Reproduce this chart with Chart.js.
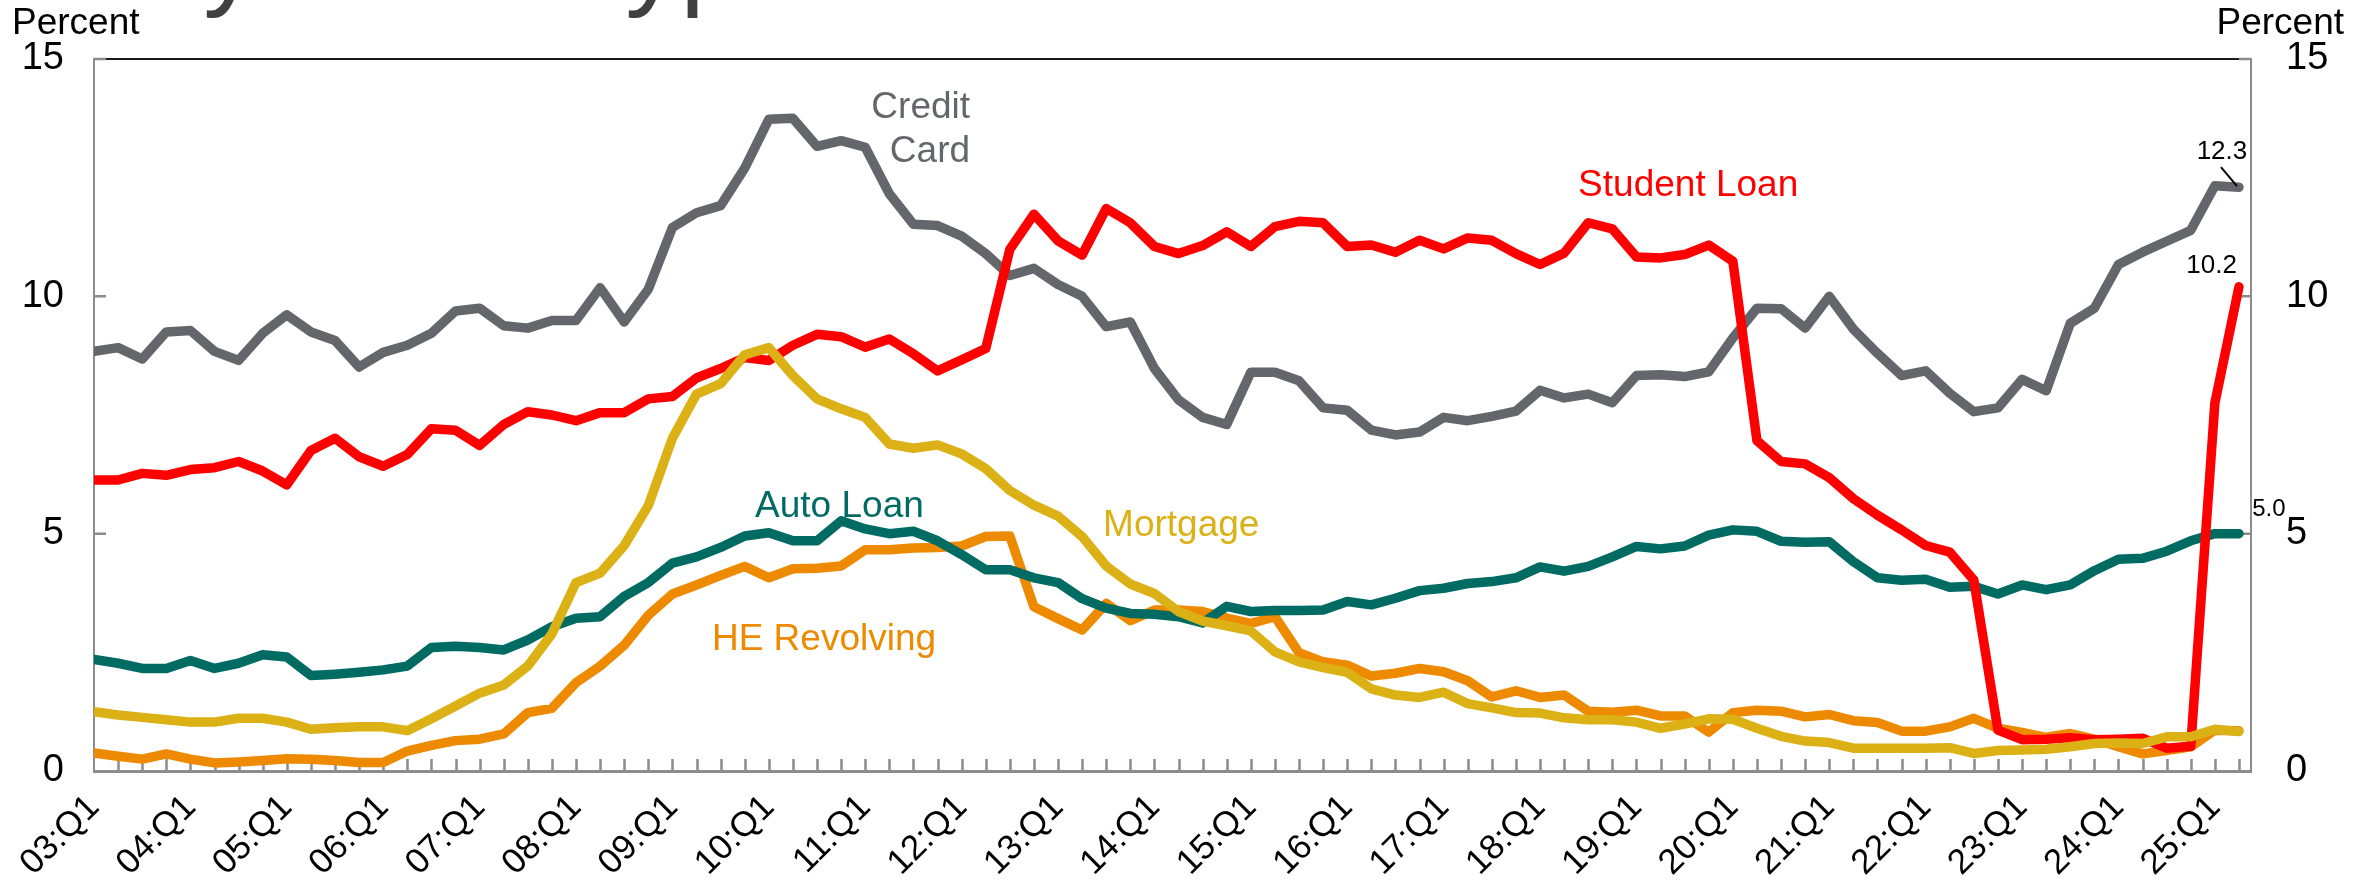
<!DOCTYPE html>
<html lang="en">
<head>
    <meta charset="UTF-8">
    <title>Percent of Balance 90+ Days Delinquent by Loan Type</title>
    <script src="https://cdn.jsdelivr.net/npm/chart.js"></script>
    <style>
        html, body { margin: 0; padding: 0; background: #fff; }
        #wrap { width: 2374px; height: 893px; }
    </style>
</head>
<body>
<div id="wrap"><canvas id="delinqChart" width="2374" height="893"></canvas></div>
<script>
// quarterly, 03:Q1 .. 25:Q2
const quarters = [];
for (let yr = 3; yr <= 25; yr++) {
    for (let q = 1; q <= 4; q++) {
        quarters.push(String(yr).padStart(2, '0') + ':Q' + q);
    }
}
quarters.length = 90;

const creditCard = [
    8.84, 8.92, 8.68, 9.25, 9.28, 8.84, 8.65, 9.22, 9.61, 9.25,
    9.07, 8.51, 8.82, 8.97, 9.22, 9.69, 9.75, 9.38, 9.33, 9.49,
    9.49, 10.18, 9.46, 10.15, 11.45, 11.76, 11.91, 12.70, 13.73, 13.75,
    13.16, 13.28, 13.14, 12.16, 11.52, 11.49, 11.27, 10.90, 10.44, 10.59,
    10.25, 10.00, 9.36, 9.46, 8.48, 7.82, 7.45, 7.30, 8.40, 8.40,
    8.22, 7.65, 7.60, 7.18, 7.08, 7.14, 7.45, 7.38, 7.47, 7.58,
    8.02, 7.86, 7.94, 7.76, 8.33, 8.35, 8.31, 8.41, 9.12, 9.75,
    9.74, 9.33, 10.00, 9.31, 8.80, 8.33, 8.43, 7.96, 7.57, 7.65,
    8.25, 8.01, 9.43, 9.75, 10.67, 10.93, 11.16, 11.39, 12.33, 12.3
];
const studentLoan = [
    6.13, 6.13, 6.27, 6.23, 6.35, 6.39, 6.52, 6.32, 6.03, 6.75,
    7.01, 6.62, 6.42, 6.67, 7.21, 7.18, 6.86, 7.30, 7.57, 7.50,
    7.38, 7.55, 7.55, 7.84, 7.89, 8.28, 8.48, 8.71, 8.65, 8.97,
    9.20, 9.15, 8.93, 9.10, 8.79, 8.43, 8.66, 8.90, 10.99, 11.73,
    11.17, 10.87, 11.85, 11.55, 11.05, 10.90, 11.07, 11.36, 11.05, 11.47,
    11.58, 11.55, 11.05, 11.08, 10.93, 11.18, 11.00, 11.23, 11.18, 10.90,
    10.67, 10.91, 11.55, 11.42, 10.83, 10.81, 10.88, 11.08, 10.74, 6.96,
    6.52, 6.47, 6.18, 5.74, 5.39, 5.08, 4.75, 4.61, 4.02, 0.86,
    0.66, 0.67, 0.70, 0.66, 0.67, 0.69, 0.48, 0.52, 7.75, 10.2
];
const autoLoan = [
    2.35, 2.27, 2.16, 2.16, 2.33, 2.16, 2.27, 2.45, 2.40, 2.01,
    2.04, 2.08, 2.13, 2.21, 2.60, 2.63, 2.60, 2.55, 2.76, 3.04,
    3.22, 3.25, 3.68, 3.97, 4.38, 4.51, 4.71, 4.95, 5.02, 4.85,
    4.85, 5.27, 5.10, 5.00, 5.05, 4.85, 4.56, 4.24, 4.24, 4.07,
    3.97, 3.63, 3.43, 3.32, 3.30, 3.25, 3.12, 3.47, 3.36, 3.38,
    3.38, 3.39, 3.57, 3.50, 3.64, 3.80, 3.85, 3.95, 3.99, 4.07,
    4.30, 4.21, 4.31, 4.51, 4.73, 4.68, 4.74, 4.97, 5.08, 5.05,
    4.84, 4.82, 4.83, 4.41, 4.07, 4.02, 4.04, 3.87, 3.89, 3.73,
    3.92, 3.82, 3.92, 4.22, 4.46, 4.48, 4.63, 4.85, 5.0, 5.0
];
const mortgage = [
    1.25, 1.18, 1.13, 1.08, 1.03, 1.03, 1.11, 1.11, 1.03, 0.88,
    0.91, 0.93, 0.93, 0.85, 1.10, 1.37, 1.64, 1.81, 2.21, 2.89,
    3.97, 4.17, 4.75, 5.59, 7.01, 7.94, 8.16, 8.77, 8.92, 8.33,
    7.84, 7.63, 7.45, 6.89, 6.80, 6.87, 6.68, 6.37, 5.91, 5.60,
    5.37, 4.94, 4.32, 3.94, 3.74, 3.36, 3.16, 3.06, 2.95, 2.51,
    2.30, 2.18, 2.08, 1.73, 1.60, 1.55, 1.66, 1.42, 1.33, 1.23,
    1.22, 1.12, 1.08, 1.08, 1.03, 0.90, 0.99, 1.10, 1.09, 0.90,
    0.73, 0.63, 0.60, 0.48, 0.48, 0.48, 0.48, 0.49, 0.37, 0.43,
    0.44, 0.46, 0.51, 0.58, 0.59, 0.58, 0.72, 0.72, 0.88, 0.83
];
const heRevolving = [
    0.38, 0.31, 0.25, 0.36, 0.25, 0.17, 0.19, 0.22, 0.26, 0.25,
    0.22, 0.18, 0.18, 0.42, 0.54, 0.64, 0.67, 0.78, 1.23, 1.32,
    1.86, 2.21, 2.65, 3.28, 3.73, 3.92, 4.12, 4.31, 4.07, 4.26,
    4.27, 4.32, 4.66, 4.66, 4.70, 4.71, 4.74, 4.94, 4.95, 3.46,
    3.21, 2.97, 3.53, 3.17, 3.39, 3.39, 3.36, 3.22, 3.11, 3.25,
    2.49, 2.30, 2.23, 2.00, 2.06, 2.16, 2.09, 1.90, 1.56, 1.69,
    1.55, 1.60, 1.26, 1.24, 1.28, 1.16, 1.16, 0.82, 1.23, 1.28,
    1.26, 1.14, 1.19, 1.06, 1.02, 0.84, 0.84, 0.93, 1.11, 0.90,
    0.81, 0.71, 0.79, 0.67, 0.51, 0.36, 0.43, 0.51, 0.86, 0.85
];
const yTicks = [0, 5, 10, 15];

const FONT = "'Liberation Sans', Arial, Helvetica, sans-serif";
const AXIS_GRAY = '#8c8c8c';
const LINE_W = 9.5;

// order: lower number is painted on top
const series = [
    { name: 'Mortgage',     values: mortgage,    color: '#dbb116', order: 1 },
    { name: 'Student Loan', values: studentLoan, color: '#ff0000', order: 2 },
    { name: 'Auto Loan',    values: autoLoan,    color: '#006b63', order: 3 },
    { name: 'HE Revolving', values: heRevolving, color: '#ee8a00', order: 4 },
    { name: 'Credit Card',  values: creditCard,  color: '#63666a', order: 5 }
];

// in-plot series names, placed in data units (x = quarter index, y = percent)
const seriesLabels = [
    { lines: ['Credit', 'Card'], x: 36.35, y: 13.76, lead: 0.93, align: 'right', color: '#63666a' },
    { lines: ['Student Loan'],   x: 61.58, y: 12.11, align: 'left', color: '#ff0000' },
    { lines: ['Auto Loan'],      x: 27.43, y: 5.35,  align: 'left', color: '#006b63' },
    { lines: ['Mortgage'],       x: 41.87, y: 4.95,  align: 'left', color: '#dbb116' },
    { lines: ['HE Revolving'],   x: 25.64, y: 2.55,  align: 'left', color: '#ee8a00' }
];

const decor = {
    id: 'decor',
    beforeDatasetsDraw(chart) {
        const { ctx, chartArea: a, scales } = chart;
        ctx.save();
        // top frame line
        ctx.strokeStyle = '#1a1a1a';
        ctx.lineWidth = 2;
        ctx.beginPath();
        ctx.moveTo(a.left, a.top);
        ctx.lineTo(a.right, a.top);
        ctx.stroke();

        // tick marks pointing into the plot
        ctx.strokeStyle = AXIS_GRAY;
        ctx.lineWidth = 2.5;
        ctx.beginPath();
        for (let i = 1; i < quarters.length; i++) {
            const px = Math.round(scales.x.getPixelForValue(i)) + 0.5;
            ctx.moveTo(px, a.bottom);
            ctx.lineTo(px, a.bottom - 12);
        }
        yTicks.slice(1).forEach(v => {
            const py = scales.y.getPixelForValue(v);
            ctx.moveTo(a.left, py);
            ctx.lineTo(a.left + 12, py);
            ctx.moveTo(a.right, py);
            ctx.lineTo(a.right - 12, py);
        });
        ctx.stroke();
        ctx.restore();
    },
    afterDatasetsDraw(chart) {
        const { ctx, scales } = chart;
        const sx = scales.x, sy = scales.y;
        ctx.save();

        // title (only the descenders remain inside the canvas)
        ctx.fillStyle = '#404040';
        ctx.font = '110px ' + FONT;
        ctx.textBaseline = 'alphabetic';
        ctx.textAlign = 'left';
        const head = 'Percent of Balance 90+ Days Delinquent ';
        ctx.fillText(head + 'by Loan Type', 142 - ctx.measureText(head).width, -5);

        // axis units
        ctx.fillStyle = '#000';
        ctx.font = '37px ' + FONT;
        ctx.textAlign = 'left';
        ctx.fillText('Percent', 12, 34);
        ctx.textAlign = 'right';
        ctx.fillText('Percent', 2344, 34);

        // series names
        ctx.font = '37px ' + FONT;
        seriesLabels.forEach(l => {
            ctx.fillStyle = l.color;
            ctx.textAlign = l.align;
            l.lines.forEach((t, k) => {
                ctx.fillText(t, sx.getPixelForValue(l.x), sy.getPixelForValue(l.y - k * (l.lead || 0)));
            });
        });

        // latest-value callouts
        const last = quarters.length - 1;
        const px = sx.getPixelForValue(last);
        ctx.fillStyle = '#000';

        const cc = creditCard[last];
        const ccY = sy.getPixelForValue(cc);
        ctx.font = '26px ' + FONT;
        ctx.textAlign = 'center';
        ctx.fillText(cc.toFixed(1), px - 17, ccY - 28);
        ctx.strokeStyle = '#000';
        ctx.lineWidth = 2;
        ctx.beginPath();
        ctx.moveTo(px - 18, ccY - 20);
        ctx.lineTo(px - 2, ccY - 1);
        ctx.stroke();

        const sl = studentLoan[last];
        ctx.textAlign = 'right';
        ctx.fillText(sl.toFixed(1), px - 2, sy.getPixelForValue(sl) - 14);

        const al = autoLoan[last];
        ctx.font = '24px ' + FONT;
        ctx.textAlign = 'center';
        ctx.fillText(al.toFixed(1), px + 30, sy.getPixelForValue(al) - 18);

        ctx.restore();
    }
};

const yAxis = (pos, width, pad) => ({
    type: 'linear',
    position: pos,
    min: 0,
    max: 15,
    afterFit: s => { s.width = width; },
    grid: { display: false, drawTicks: false },
    border: { display: true, color: AXIS_GRAY, width: 2 },
    ticks: {
        stepSize: 5,
        padding: pad,
        color: '#000',
        font: { family: FONT, size: 38 }
    }
});

new Chart(document.getElementById('delinqChart').getContext('2d'), {
    type: 'line',
    data: {
        datasets: series.map(s => ({
            label: s.name,
            data: s.values.map((v, i) => ({ x: i, y: v })),
            borderColor: s.color,
            backgroundColor: s.color,
            borderWidth: LINE_W,
            pointRadius: 0,
            tension: 0,
            borderJoinStyle: 'round',
            borderCapStyle: 'round',
            order: s.order,
            yAxisID: 'y'
        }))
    },
    options: {
        responsive: false,
        animation: false,
        devicePixelRatio: 1,
        layout: { padding: { top: 59, left: 0, right: 0, bottom: 0 } },
        plugins: {
            legend: { display: false },
            tooltip: { enabled: false }
        },
        scales: {
            x: {
                type: 'linear',
                position: 'bottom',
                min: 0,
                max: quarters.length - 0.5,
                afterFit: s => { s.height = 122; },
                grid: { display: false, drawTicks: false },
                border: { display: true, color: AXIS_GRAY, width: 3 },
                ticks: {
                    stepSize: 1,
                    maxTicksLimit: 200,
                    autoSkip: false,
                    minRotation: 45,
                    maxRotation: 45,
                    padding: 16,
                    color: '#000',
                    font: { family: FONT, size: 35 },
                    callback: v => (Number.isInteger(v) && v % 4 === 0) ? quarters[v] : ''
                }
            },
            y: yAxis('left', 94, 30),
            y2: yAxis('right', 123, 35)
        }
    },
    plugins: [decor]
});
</script>
</body>
</html>
